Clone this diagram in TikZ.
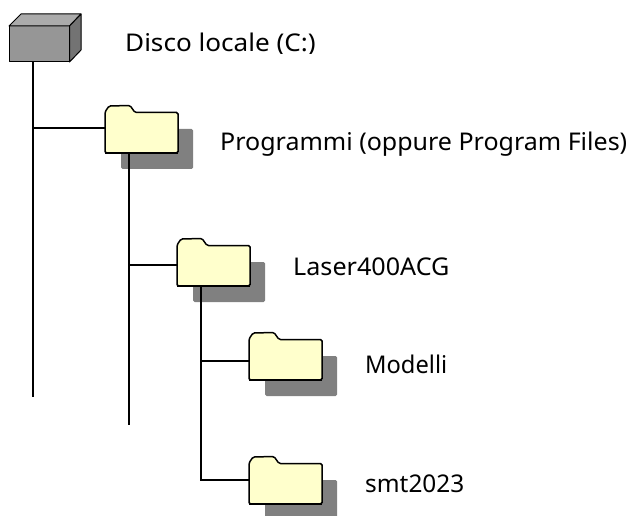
\documentclass[tikz,border=0pt]{standalone}
\usepackage{fontspec}
\usepackage{graphicx}
\setmainfont{Noto Sans}
\definecolor{fold}{HTML}{FFFFCC}
\definecolor{shad}{HTML}{808080}
\definecolor{dfront}{HTML}{969696}
\definecolor{dtop}{HTML}{ABABAB}
\definecolor{dside}{HTML}{737373}
\tikzset{x=1pt,y=-1pt,
 conn/.style={line width=1.3pt,black},
 lab/.style={anchor=base west,inner sep=0pt,font=\fontsize{24.4}{28}\selectfont},
 pics/folder/.style={code={
  \fill[shad,rounded corners=1.5pt] (16,24) rectangle (88,64);
  \draw[line width=1.5pt,fill=fold,rounded corners=1.5pt] (0,48) -- (0,7) -- (4,1) -- (25,0.5) -- (30,7.5) -- (73,7.5) -- (73,48) -- cycle;
  \draw[line width=1.5pt] (0,48) -- (73,48);
 }}}
\begin{document}
\begin{tikzpicture}
\useasboundingbox (0,0) rectangle (632,516);
\coordinate (d) at (33,62);
\coordinate (e1) at (33,397);
\coordinate (e2) at (129,425);
\coordinate (j1) at (33,128);
\coordinate (f1l) at (105,128);
\coordinate (f1b) at (129,153);
\coordinate (j2) at (129,265);
\coordinate (f2l) at (177,265);
\coordinate (f2b) at (201,287);
\coordinate (j3) at (201,361);
\coordinate (f3l) at (249,361);
\coordinate (f4b) at (201,480);
\coordinate (f4l) at (249,480);
\pic at (105,105) {folder};
\pic at (177,238) {folder};
\pic at (249,332) {folder};
\pic at (249,456) {folder};
\draw[conn] (d) -- (e1);
\draw[conn] (j1) -- (f1l);
\draw[conn] (f1b) -- (e2);
\draw[conn] (j2) -- (f2l);
\draw[conn] (f2b) -- (f4b) -- (f4l);
\draw[conn] (j3) -- (f3l);
\draw[line width=1pt,fill=dfront,line join=round] (9,26) rectangle (69.5,62);
\draw[line width=1pt,fill=dtop,line join=round] (9,26) -- (21,14) -- (81,14) -- (69.5,26) -- cycle;
\draw[line width=1pt,fill=dside,line join=round] (69.5,26) -- (81,14) -- (81,50) -- (69.5,62) -- cycle;
\begin{scope}
\clip (100,20) rectangle (400,53.5);
\node[lab] (t0) at (125,52) {\scalebox{1.07}[1]{Disco locale (C:)}};
\end{scope}
\node[lab] (t1) at (220,150) {\scalebox{1.025}[1]{Programmi (oppure Program Files)}};
\node[lab] (t2) at (293,275) {\scalebox{1.03}[1]{Laser400ACG}};
\node[lab] (t3) at (365,373) {\scalebox{0.97}[1]{Modelli}};
\node[lab] (t4) at (365,492) {smt2023};
\end{tikzpicture}
\end{document}
